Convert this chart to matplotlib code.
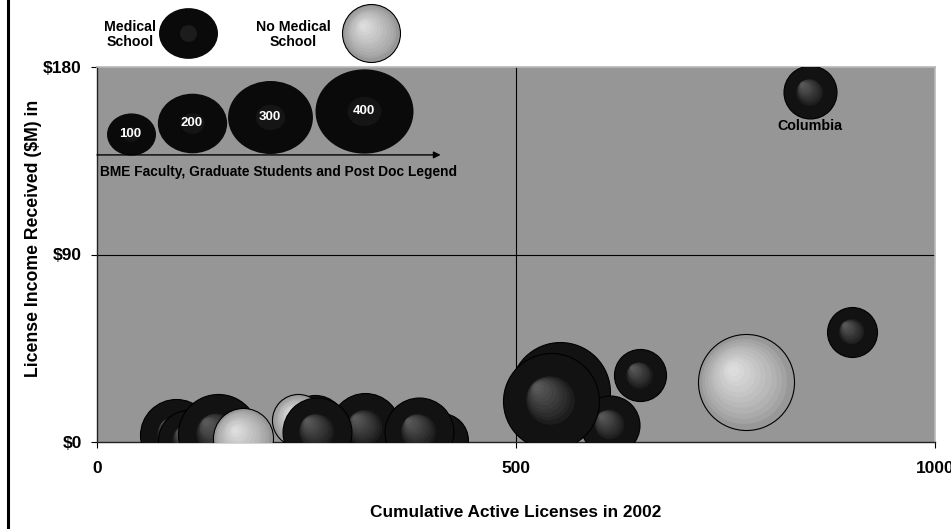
import numpy as np
import matplotlib
matplotlib.use("Agg")
import matplotlib.pyplot as plt
from matplotlib.transforms import offset_copy, Affine2D
from matplotlib.path import Path
from matplotlib.lines import Line2D
from matplotlib.colors import to_rgb

plt.rcParams['font.family'] = ['Liberation Sans', 'DejaVu Sans']
plt.rcParams['font.weight'] = 'bold'

# Data: cumulative active licenses, license income ($M), BME people, medical school
licenses = [94, 109, 144, 174, 320, 260, 240, 263, 410, 384,
            552, 612, 542, 648, 774, 901, 851]
income = [3.4, 1.0, 3.8, 2.0, 6.7, 8.0, 10.6, 5.0, 1.0, 5.0,
          24.0, 8.4, 19.7, 32.0, 28.6, 52.8, 167.8]
people = [216, 150, 267, 150, 204, 150, 113, 198, 121, 198,
          416, 145, 384, 113, 384, 104, 117]
med_school = [True, True, True, False, True, True, False, True, True, True,
              True, True, True, True, False, True, True]
labels = {16: 'Columbia'}

# size legend
legend_people = [100, 200, 300, 400]
legend_x = [40, 113, 206, 319]
legend_y = [147.8, 153.0, 155.8, 158.9]

SIZE = 12.45  # points^2 per person

fig = plt.figure(figsize=(9.51, 5.29), dpi=100)
ax = fig.add_axes([97 / 951, 87 / 529, 838 / 951, 375 / 529])
ax.set_facecolor('#969696')
ax.set_xlim(0, 1000)
ax.set_ylim(0, 180)


def blend(c1, c2, t):
    a = np.array(to_rgb(c1))
    b = np.array(to_rgb(c2))
    return tuple(a + (b - a) * t)


def bubble(x, y, v, med, z, clip=True):
    s = SIZE * v
    r_pt = np.sqrt(s) / 2
    if med:
        base, hi, f0, f1, shift = '#121212', '#585858', 0.55, 0.08, 0.30
    else:
        base, hi, f0, f1, shift = '#989898', '#dcdcdc', 0.97, 0.12, 0.26
    ax.scatter([x], [y], s=s, c=[base], edgecolors='black', linewidths=0.8,
               zorder=z, clip_on=clip)
    n = 10
    for k in range(1, n + 1):
        t = k / n
        f = f0 + (f1 - f0) * t
        off = shift * r_pt * t
        tr = offset_copy(ax.transData, fig=fig, x=-off, y=off, units='points')
        ax.scatter([x], [y], s=s * f * f, c=[blend(base, hi, t ** 0.8)], linewidths=0,
                   transform=tr, zorder=z + k * 0.01, clip_on=clip)


for i in range(len(licenses)):
    bubble(licenses[i], income[i], people[i], med_school[i], 3 + i)
    if i in labels:
        ax.text(licenses[i], income[i] - 16, labels[i], ha='center', va='center',
                fontsize=10.3, fontweight='bold', zorder=40)

# size legend inside plot (slightly flattened bubbles)
ell = Path(Affine2D().scale(1.0, 0.86).transform(Path.unit_circle().vertices),
           Path.unit_circle().codes)
for i, v in enumerate(legend_people):
    ax.scatter([legend_x[i]], [legend_y[i]], s=SIZE * v, marker=ell,
               c='#0a0a0a', linewidths=0, zorder=30)
    ax.scatter([legend_x[i]], [legend_y[i]], s=SIZE * v * 0.12, marker=ell,
               c='#151515', linewidths=0, zorder=30.1)
    ax.text(legend_x[i], legend_y[i], str(v), color='white', ha='center',
            va='center', fontsize=9.5, fontweight='bold', zorder=31)

ax.annotate('', xy=(410, 137.8), xytext=(0, 137.8),
            arrowprops=dict(arrowstyle='-|>', color='black', lw=1,
                            mutation_scale=10, shrinkA=0, shrinkB=0),
            zorder=32, annotation_clip=False)
ax.text(3, 129.6, 'BME Faculty, Graduate Students and Post Doc Legend',
        ha='left', va='center', fontsize=9.9, fontweight='bold', zorder=32)

# medical school legend above plot
ax.text(39, 195.5, 'Medical\nSchool', ha='center', va='center', fontsize=10.2,
        fontweight='bold', linespacing=1.05)
ax.text(234, 195.5, 'No Medical\nSchool', ha='center', va='center', fontsize=10.2,
        fontweight='bold', linespacing=1.05)
ax.scatter([108.6], [196.3], s=SIZE * 145, marker=ell, c='#0a0a0a',
           linewidths=0, clip_on=False, zorder=30)
ax.scatter([108.6], [196.3], s=SIZE * 12, c='#1c1c1c', linewidths=0,
           clip_on=False, zorder=30.1)
bubble(327, 196.3, 140, False, 30, clip=False)

ax.axvline(500, color='black', lw=0.8, zorder=1)
ax.axhline(90, color='black', lw=0.8, zorder=1)

ax.set_xticks([0, 500, 1000])
ax.set_xticklabels(['0', '500', '1000'])
ax.set_yticks([0, 90, 180])
ax.set_yticklabels(['$0', '$90', '$180'])
ax.tick_params(direction='out', length=4, width=0.8, labelsize=12.5)
ax.tick_params(axis='y', pad=7)
ax.tick_params(axis='x', pad=10)
for lab in ax.get_xticklabels() + ax.get_yticklabels():
    lab.set_fontweight('bold')

for side in ['left', 'bottom']:
    ax.spines[side].set_color('#222222')
    ax.spines[side].set_linewidth(1)
for side in ['top', 'right']:
    ax.spines[side].set_color('#b8b8b8')
    ax.spines[side].set_linewidth(1.2)

ax.set_xlabel('Cumulative Active Licenses in 2002', fontsize=12.4, fontweight='bold')
ax.xaxis.set_label_coords(0.5, -0.168)
ax.set_ylabel('License Income Received ($M) in', fontsize=12.7, fontweight='bold')
ax.yaxis.set_label_coords(-0.0655, 0.544)

fig.add_artist(Line2D([8 / 951, 8 / 951], [0, 1], color='black', lw=2.2))

fig.savefig('out.png', dpi=100)
